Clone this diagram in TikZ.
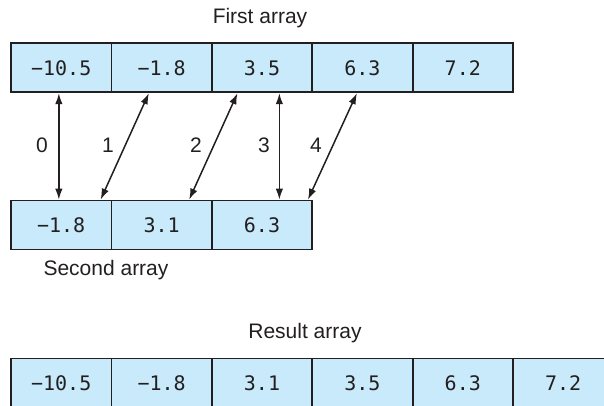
\documentclass[tikz,border=0pt]{standalone}
\usepackage{fontspec}
\setmainfont{Liberation Sans}
\newfontfamily\cellfont{DejaVu Sans Mono}
\usetikzlibrary{calc,arrows.meta}
\definecolor{cellblue}{RGB}{200,234,250}
\definecolor{ink}{RGB}{35,31,32}
\tikzset{
  cell/.style={draw=ink, line width=1.8pt, fill=cellblue, minimum width=100.4pt, minimum height=49pt, inner sep=0pt, font=\cellfont\fontsize{20}{24}\selectfont, text=ink},
  caption/.style={font=\fontsize{21}{25}\selectfont, text=ink, inner sep=0pt},
  idx/.style={font=\fontsize{21}{25}\selectfont, text=ink, inner sep=0pt},
  link/.style={draw=ink, line width=1.5pt, {Latex[length=11pt,width=7.5pt]}-{Latex[length=11pt,width=7.5pt]}}
}
\begin{document}
\begin{tikzpicture}[x=1pt,y=-1pt]
\useasboundingbox (0,0) rectangle (604,405);
\clip (0,0) rectangle (604,405);
% First array
\node[caption] (cap1) at (260,18) {First array};
\node[cell] (t0) at (61.2,67.8) {−10.5};
\node[cell] (t1) at (161.6,67.8) {−1.8};
\node[cell] (t2) at (262.0,67.8) {3.5};
\node[cell] (t3) at (362.4,67.8) {6.3};
\node[cell] (t4) at (462.8,67.8) {7.2};
% Second array
\node[cell] (s0) at (61.2,225) {−1.8};
\node[cell] (s1) at (161.6,225) {3.1};
\node[cell] (s2) at (262.0,225) {6.3};
\node[caption] (cap2) at (106,270) {Second array};
% Result array
\node[caption] (cap3) at (305,333) {Result array};
\node[cell] (r0) at (61.2,383) {−10.5};
\node[cell] (r1) at (161.6,383) {−1.8};
\node[cell] (r2) at (262.0,383) {3.1};
\node[cell] (r3) at (362.4,383) {3.5};
\node[cell] (r4) at (462.8,383) {6.3};
\node[cell] (r5) at (563.2,383) {7.2};
% arrow end points
\coordinate (a0t) at ($(t0.south west)!0.477!(t0.south east)$);
\coordinate (a0b) at ($(s0.north west)!0.477!(s0.north east)$);
\coordinate (a1t) at ($(t1.south west)!0.375!(t1.south east)$);
\coordinate (a1b) at ($(s0.north west)!0.886!(s0.north east)$);
\coordinate (a2t) at ($(t2.south west)!0.26!(t2.south east)$);
\coordinate (a2b) at ($(s1.north west)!0.77!(s1.north east)$);
\coordinate (a3t) at ($(t2.south west)!0.67!(t2.south east)$);
\coordinate (a3b) at ($(s2.north west)!0.67!(s2.north east)$);
\coordinate (a4t) at ($(t3.south west)!0.446!(t3.south east)$);
\coordinate (a4b) at ($(s2.north west)!0.95!(s2.north east)$);
\draw[link] (a0t) -- (a0b);
\draw[link] (a1t) -- (a1b);
\draw[link] (a2t) -- (a2b);
\draw[link] (a3t) -- (a3b);
\draw[link] (a4t) -- (a4b);
% index labels
\node[idx] (l0) at (42,145) {0};
\node[idx] (l1) at (108,145) {1};
\node[idx] (l2) at (196,145) {2};
\node[idx] (l3) at (264,145) {3};
\node[idx] (l4) at (316,145) {4};
\end{tikzpicture}
\end{document}
